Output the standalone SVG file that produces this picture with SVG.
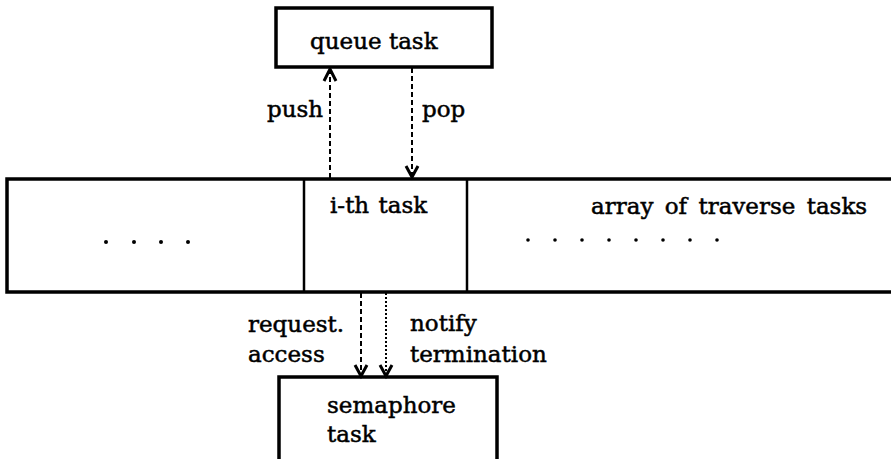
<svg xmlns="http://www.w3.org/2000/svg" width="891" height="459" viewBox="0 0 891 459">
<style>
  .box { fill: #fff; stroke: #000; stroke-width: 3.5; }
  .div { stroke: #000; stroke-width: 2.5; fill: none; }
  .t { font-family: "DejaVu Serif", "Liberation Serif", serif; font-size: 23px; fill: #000; stroke: #000; stroke-width: 0.5; }
  .dash { stroke: #000; stroke-width: 2; fill: none; stroke-dasharray: 5 3; }
  .dot { stroke: #000; stroke-width: 2; fill: none; stroke-dasharray: 2 2; }
  .head { stroke: #000; stroke-width: 3; fill: none; stroke-linejoin: miter; }
</style>
<rect width="891" height="459" fill="#fff"/>

<g id="queue-task">
  <rect class="box" x="276" y="8" width="216" height="59"/>
  <text class="t" x="310" y="49">queue task</text>
</g>

<g id="traverse-array">
  <rect class="box" x="7" y="179" width="900" height="113"/>
  <line class="div" x1="304" y1="179" x2="304" y2="292"/>
  <line class="div" x1="467" y1="179" x2="467" y2="292"/>
  <g id="left-tasks">
    <circle cx="106" cy="242" r="2"/>
    <circle cx="134" cy="242" r="2"/>
    <circle cx="161" cy="242" r="2"/>
    <circle cx="188" cy="242" r="2"/>
  </g>
  <g id="ith-task">
    <text class="t" x="330" y="213" word-spacing="2">i-th task</text>
  </g>
  <g id="right-tasks">
    <text class="t" x="591" y="214" word-spacing="4">array of traverse tasks</text>
    <circle cx="528" cy="240" r="1.8"/>
    <circle cx="555" cy="240" r="1.8"/>
    <circle cx="582" cy="240" r="1.8"/>
    <circle cx="609" cy="240" r="1.8"/>
    <circle cx="636" cy="240" r="1.8"/>
    <circle cx="663" cy="240" r="1.8"/>
    <circle cx="690" cy="240" r="1.8"/>
    <circle cx="717" cy="240" r="1.8"/>
  </g>
</g>

<g id="semaphore-task">
  <rect class="box" x="279" y="377" width="218" height="100"/>
  <text class="t" x="327" y="413">semaphore</text>
  <text class="t" x="327" y="442">task</text>
</g>

<g id="connectors">
  <g id="push">
    <line class="dash" x1="330" y1="178" x2="330" y2="71"/>
    <polyline class="head" points="324,81 330,69 336,81"/>
    <text class="t" x="267" y="117">push</text>
  </g>
  <g id="pop">
    <line class="dash" x1="412" y1="68" x2="412" y2="175"/>
    <polyline class="head" points="406,166 412,177 418,166"/>
    <text class="t" x="422" y="117">pop</text>
  </g>
  <g id="request-access">
    <line class="dash" x1="361" y1="293" x2="361" y2="374"/>
    <polyline class="head" points="355,365 361,376 367,365"/>
    <text class="t" x="248" y="332">request.</text>
    <text class="t" x="248" y="362">access</text>
  </g>
  <g id="notify-termination">
    <line class="dot" x1="386" y1="293" x2="386" y2="374"/>
    <polyline class="head" points="380,365 386,376 392,365"/>
    <text class="t" x="410" y="331">notify</text>
    <text class="t" x="410" y="362">termination</text>
  </g>
</g>
</svg>
